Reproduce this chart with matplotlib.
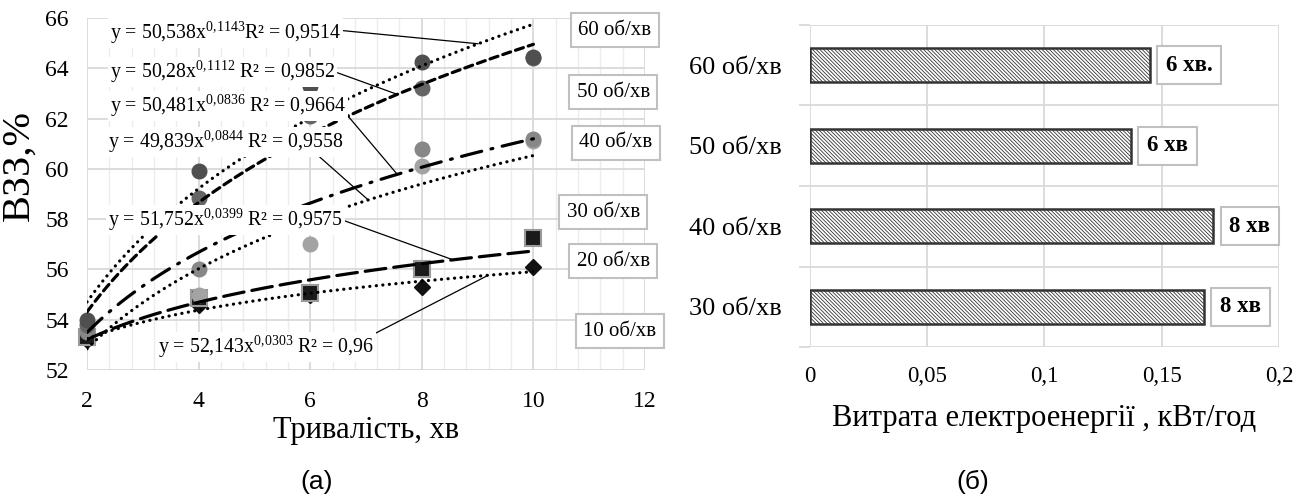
import matplotlib.pyplot as plt
import numpy as np

plt.rcParams['font.family'] = ['Liberation Serif', 'DejaVu Serif']
plt.rcParams['mathtext.fontset'] = 'custom'
plt.rcParams['mathtext.rm'] = 'Liberation Serif'
plt.rcParams['mathtext.it'] = 'Liberation Serif:italic'
plt.rcParams['hatch.linewidth'] = 0.6

# (a) ВЗЗ vs duration for each drum speed
minutes = np.array([2, 4, 6, 8, 10])
vzz_10 = [53.2, 54.6, 55.0, 55.3, 56.1]
vzz_20 = [53.3, 54.85, 55.05, 56.0, 57.25]
vzz_30 = [53.6, 55.0, 57.0, 60.1, 61.1]
vzz_40 = [53.5, 56.0, 58.0, 60.8, 61.2]
vzz_50 = [53.8, 58.85, 62.1, 63.2, 64.4]
vzz_60 = [54.0, 59.9, 63.3, 64.25, 64.45]
speeds = ['10 об/хв', '20 об/хв', '30 об/хв', '40 об/хв', '50 об/хв', '60 об/хв']

# power trendlines y = a * x^b shown on the chart
trend_a = [52.143, 51.752, 49.839, 50.481, 50.28, 50.538]
trend_b = [0.0303, 0.0399, 0.0844, 0.0836, 0.1112, 0.1143]
trend_r2 = ['0,96', '0,9575', '0,9558', '0,9664', '0,9852', '0,9514']

# (б) energy use
bar_speeds = ['30 об/хв', '40 об/хв', '50 об/хв', '60 об/хв']
energy = [0.168, 0.172, 0.137, 0.145]
bar_times = ['8 хв', '8 хв', '6 хв', '6 хв.']

fig = plt.figure(figsize=(13.06, 5.04), dpi=100)

# ---------------- (a) ----------------
ax = fig.add_axes([0.0666, 0.2659, 0.4273, 0.6984])
series = [vzz_10, vzz_20, vzz_30, vzz_40, vzz_50, vzz_60]
markers = [
    dict(marker='D', ms=8.5, mfc='#111111', mec='#111111'),
    dict(marker='s', ms=11.5, mfc='#1a1a1a', mec='#9a9a9a', mew=1.5),
    dict(marker='o', ms=10.5, mfc='#a3a3a3', mec='#a3a3a3'),
    dict(marker='o', ms=10.5, mfc='#878787', mec='#878787'),
    dict(marker='o', ms=10.5, mfc='#656565', mec='#656565'),
    dict(marker='o', ms=10.5, mfc='#4f4f4f', mec='#4f4f4f'),
]
dot = (0, (0.05, 2.0))
styles = [
    dot,
    (0, (6.5, 2.5)),
    dot,
    (0, (6.5, 3, 0.6, 3)),
    (0, (2.6, 1.6)),
    dot,
]
xs = np.linspace(2, 10, 200)
for vals, mk in zip(series, markers):
    ax.plot(minutes, vals, ls='none', zorder=3, clip_on=False, **mk)
for a, b, st in zip(trend_a, trend_b, styles):
    ax.plot(xs, a * xs ** b, color='black', lw=2.3, ls=st,
            dash_capstyle='round', zorder=4)

ax.set_xlim(2, 12)
ax.set_ylim(52, 66)
ax.set_xticks([2, 4, 6, 8, 10, 12])
ax.set_yticks([52, 54, 56, 58, 60, 62, 64, 66])
ax.set_xticks(np.arange(2, 12.01, 0.4), minor=True)
ax.grid(True, which='major', color='#d9d9d9', lw=1.3)
ax.grid(True, which='minor', axis='x', color='#ececec', lw=1.0)
ax.set_axisbelow(True)
ax.tick_params(which='both', length=0, labelsize=17)
ax.tick_params(axis='x', pad=15)
ax.tick_params(axis='y', pad=13)
for s in ax.spines.values():
    s.set_visible(False)
ax.set_xlabel('Тривалість, хв', fontsize=22, labelpad=3)
ax.set_ylabel('ВЗЗ,%', fontsize=29)
ax.yaxis.set_label_coords(-0.088, 0.58)

# equation labels with leader lines
eq_pos = [(3.27, 52.91), (2.38, 57.96), (2.38, 61.07), (2.41, 62.5), (2.41, 63.85), (2.41, 65.4)]
eq_hit = [9.19, 8.56, 7.04, 7.56, 7.56, 9.01]
eq_rel = [(1, 1), (1, 0.5), (0.85, 0.3), (1, 0.2), (1, 0.5), (1, 0.6)]
for i in range(6):
    a, b = trend_a[i], trend_b[i]
    sa = f'{a:g}'.replace('.', ',')
    sb = f'{b:g}'.replace('.', '{,}')
    gap = '' if i == 5 else ' '
    txt = f'y = {sa}x$^{{{sb}}}${gap}R² = {trend_r2[i]}'
    ax.annotate(txt, xy=(eq_hit[i], a * eq_hit[i] ** b), xytext=eq_pos[i],
                ha='left', va='center', fontsize=14.3, zorder=6,
                bbox=dict(boxstyle='square,pad=0.1', fc='white', ec='none'),
                arrowprops=dict(arrowstyle='-', color='black', lw=0.9,
                                relpos=eq_rel[i], shrinkA=0, shrinkB=0))

# series name boxes
name_pos = [(11.55, 53.55), (11.43, 56.33), (11.25, 58.28), (11.48, 61.03), (11.43, 63.05), (11.46, 65.52)]
for name, (px, py) in zip(speeds, name_pos):
    ax.text(px, py, name, ha='center', va='center', fontsize=15, zorder=6,
            bbox=dict(boxstyle='square,pad=0.35', fc='white', ec='#c0c0c0', lw=1.5))

fig.text(0.2427, 0.044, '(а)', fontsize=19, family='Liberation Sans',
         ha='center', va='center')

# ---------------- (б) ----------------
bx = fig.add_axes([0.6202, 0.3115, 0.3591, 0.6389])
ypos = np.arange(len(bar_speeds))
bx.barh(ypos, energy, height=0.42, color='white', edgecolor='#333333',
        lw=1.8, hatch='\\' * 9, zorder=3)
for y, v, t in zip(ypos, energy, bar_times):
    bx.annotate(t, xy=(v, y), xytext=(11.5, 0), textcoords='offset points',
                ha='left', va='center', fontsize=16.5, fontweight='bold', zorder=5,
                bbox=dict(boxstyle='square,pad=0.38', fc='white', ec='#c0c0c0', lw=1.5))
bx.set_xlim(0, 0.2)
bx.set_ylim(-0.5, 3.5)
bx.set_xticks([0, 0.05, 0.1, 0.15, 0.2])
bx.set_xticklabels(['0', '0,05', '0,1', '0,15', '0,2'])
bx.set_yticks(ypos)
bx.set_yticklabels(bar_speeds)
bx.set_yticks(np.arange(-0.5, 3.6, 1), minor=True)
bx.grid(True, axis='x', color='#d9d9d9', lw=1.3)
bx.grid(True, axis='y', which='minor', color='#d9d9d9', lw=1.3)
bx.set_axisbelow(True)
bx.tick_params(axis='x', length=0, labelsize=16.5, pad=14)
bx.tick_params(axis='y', which='major', length=0, labelsize=19, pad=20)
bx.tick_params(axis='y', which='minor', length=8, color='#d9d9d9', width=1.3)
for s in bx.spines.values():
    s.set_visible(False)
bx.set_xlabel('Витрата електроенергії , кВт/год', fontsize=22, labelpad=12)

fig.text(0.745, 0.044, '(б)', fontsize=19, family='Liberation Sans',
         ha='center', va='center')

fig.savefig('out.png', dpi=100)
